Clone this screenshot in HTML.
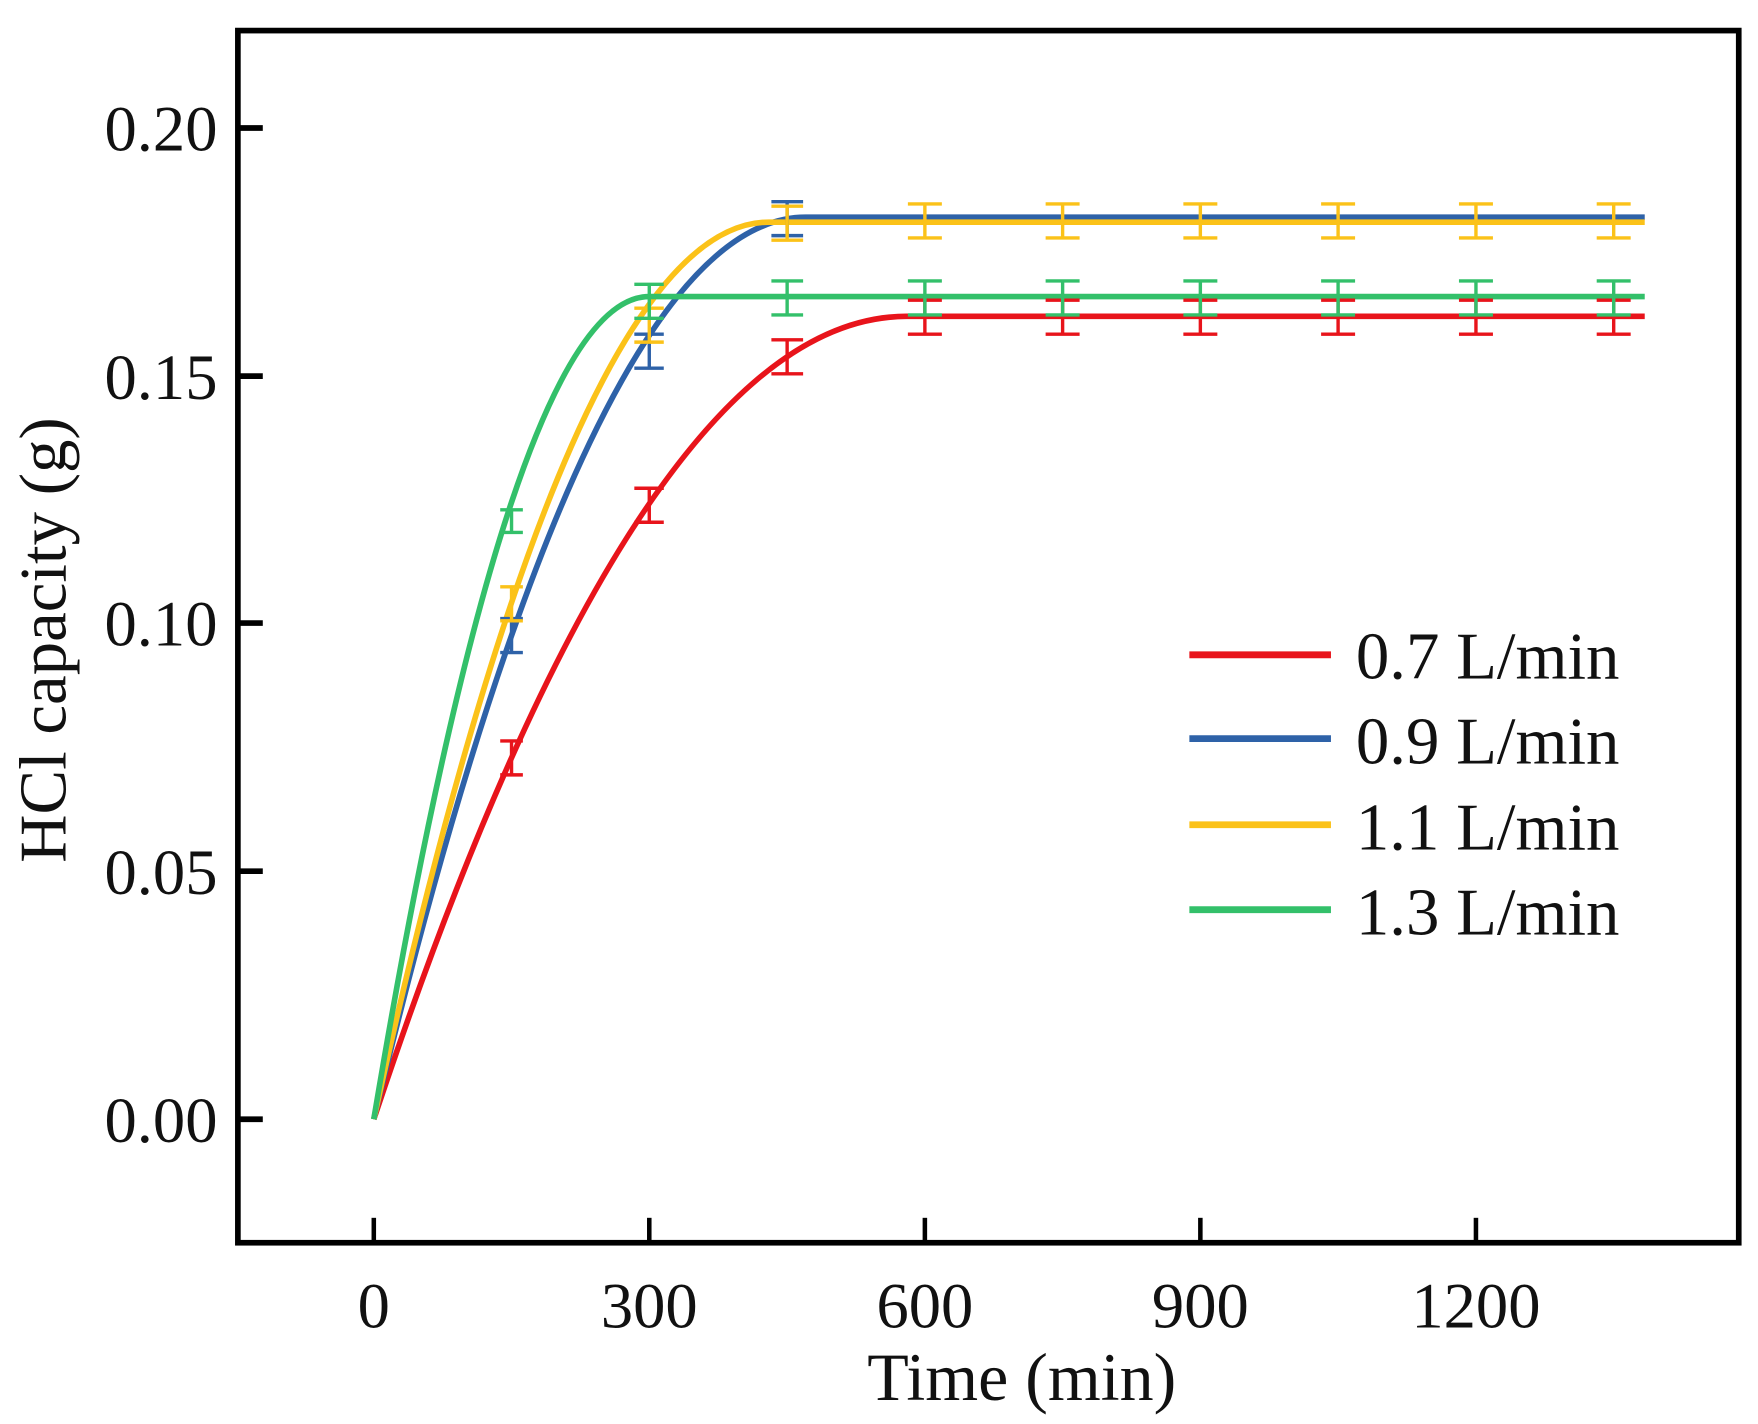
<!DOCTYPE html>
<html><head><meta charset="utf-8"><style>
html,body{margin:0;padding:0;background:#fff;}
svg{display:block;}
text{font-family:"Liberation Serif",serif;fill:#111;}
</style></head><body>
<svg width="1758" height="1424" viewBox="0 0 1552 1257" preserveAspectRatio="none" xmlns="http://www.w3.org/2000/svg">
<rect x="0" y="0" width="1552" height="1257" fill="#fff"/>
<rect x="210" y="27" width="1325" height="1070" fill="none" stroke="#000" stroke-width="5"/>
<g stroke="#000" stroke-width="5">
<line x1="210" y1="113" x2="232" y2="113"/>
<line x1="210" y1="332" x2="232" y2="332"/>
<line x1="210" y1="550" x2="232" y2="550"/>
<line x1="210" y1="769" x2="232" y2="769"/>
<line x1="210" y1="988" x2="232" y2="988"/>
</g>
<g stroke="#000" stroke-width="4">
<line x1="330" y1="1097" x2="330" y2="1075"/>
<line x1="573.2" y1="1097" x2="573.2" y2="1075"/>
<line x1="816.5" y1="1097" x2="816.5" y2="1075"/>
<line x1="1059.7" y1="1097" x2="1059.7" y2="1075"/>
<line x1="1303" y1="1097" x2="1303" y2="1075"/>
</g>
<g font-size="57" text-anchor="end">
<text x="192" y="133">0.20</text>
<text x="192" y="352">0.15</text>
<text x="192" y="570">0.10</text>
<text x="192" y="789">0.05</text>
<text x="192" y="1008">0.00</text>
</g>
<g font-size="57" text-anchor="middle">
<text x="330" y="1172">0</text>
<text x="573.2" y="1172">300</text>
<text x="816.5" y="1172">600</text>
<text x="1059.7" y="1172">900</text>
<text x="1303" y="1172">1200</text>
</g>
<text x="902" y="1236" font-size="60" text-anchor="middle">Time (min)</text>
<text transform="translate(58,565) rotate(-90)" font-size="59" text-anchor="middle">HCl capacity (g)</text>

<g fill="none" stroke-width="5">
<path d="M330,988 Q565.2,279.25 800.3,279.25 L1452,279.25" stroke="#e8141b"/>
<path d="M330,988 Q520.6,191.75 711.1,191.75 L1452,191.75" stroke="#2e62a8"/>
<path d="M330,988 Q504.3,196.1 678.6,196.1 L1452,196.1" stroke="#fbc219"/>
<path d="M330,988 Q451.6,261.75 573.2,261.75 L1452,261.75" stroke="#33c06a"/>
</g>
<g fill="none" stroke-width="3">
<g stroke="#e8141b">
<path d="M451.6,654v30M441.6,654h20M441.6,684h20"/>
<path d="M573.2,431v30M560,431h26M560,461h26"/>
<path d="M694.9,300v30M681,300h28M681,330h28"/>
<path d="M816.5,265v30M801.5,265h30M801.5,295h30"/>
<path d="M938.1,265v30M923.1,265h30M923.1,295h30"/>
<path d="M1059.7,265v30M1044.7,265h30M1044.7,295h30"/>
<path d="M1181.3,265v30M1166.3,265h30M1166.3,295h30"/>
<path d="M1303,265v30M1288,265h30M1288,295h30"/>
<path d="M1424.6,265v30M1409.6,265h30M1409.6,295h30"/>
</g>
<g stroke="#2e62a8">
<path d="M451.6,546v30M441.6,546h20M441.6,576h20"/>
<path d="M573.2,295v30M560,295h26M560,325h26"/>
<path d="M694.9,178v30M681,178h28M681,208h28"/>
</g>
<g stroke="#fbc219">
<path d="M451.6,518v30M441.6,518h20M441.6,548h20"/>
<path d="M573.2,272v30M560,272h26M560,302h26"/>
<path d="M694.9,182v30M681,182h28M681,212h28"/>
<path d="M816.5,180v30M801.5,180h30M801.5,210h30"/>
<path d="M938.1,180v30M923.1,180h30M923.1,210h30"/>
<path d="M1059.7,180v30M1044.7,180h30M1044.7,210h30"/>
<path d="M1181.3,180v30M1166.3,180h30M1166.3,210h30"/>
<path d="M1303,180v30M1288,180h30M1288,210h30"/>
<path d="M1424.6,180v30M1409.6,180h30M1409.6,210h30"/>
</g>
<g stroke="#33c06a">
<path d="M451.6,450v20M441.6,450h20M441.6,470h20"/>
<path d="M573.2,251v30M560,251h26M560,281h26"/>
<path d="M694.9,248v30M681,248h28M681,278h28"/>
<path d="M816.5,248v30M801.5,248h30M801.5,278h30"/>
<path d="M938.1,248v30M923.1,248h30M923.1,278h30"/>
<path d="M1059.7,248v30M1044.7,248h30M1044.7,278h30"/>
<path d="M1181.3,248v30M1166.3,248h30M1166.3,278h30"/>
<path d="M1303,248v30M1288,248h30M1288,278h30"/>
<path d="M1424.6,248v30M1409.6,248h30M1409.6,278h30"/>
</g>
</g>

<g stroke-width="6">
<line x1="1050" y1="578" x2="1175" y2="578" stroke="#e8141b"/>
<line x1="1050" y1="652" x2="1175" y2="652" stroke="#2e62a8"/>
<line x1="1050" y1="728" x2="1175" y2="728" stroke="#fbc219"/>
<line x1="1050" y1="803" x2="1175" y2="803" stroke="#33c06a"/>
</g>
<g font-size="59">
<text x="1197" y="599">0.7 L/min</text>
<text x="1197" y="674">0.9 L/min</text>
<text x="1197" y="750">1.1 L/min</text>
<text x="1197" y="825">1.3 L/min</text>
</g>
</svg>
</body></html>
